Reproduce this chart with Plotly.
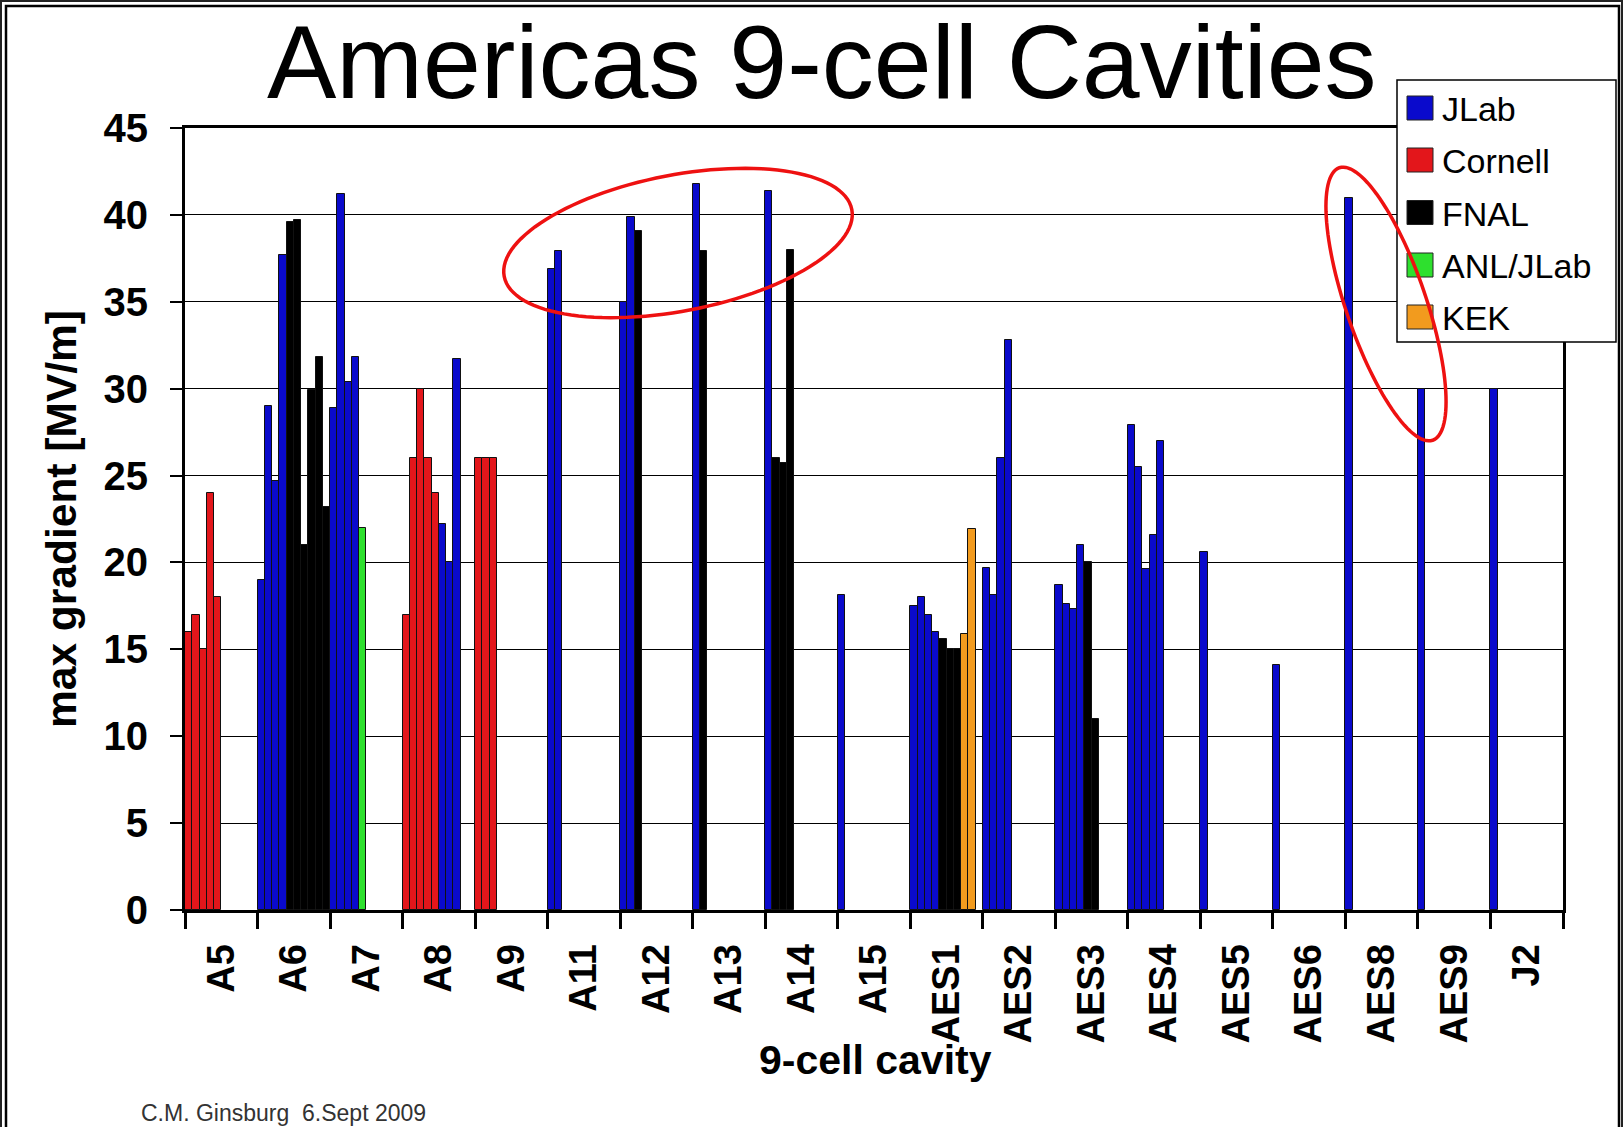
import numpy as np
import plotly.graph_objects as go

# ---------------- data ----------------
cavities = ["A5", "A6", "A7", "A8", "A9", "A11", "A12", "A13", "A14", "A15",
            "AES1", "AES2", "AES3", "AES4", "AES5", "AES6", "AES8", "AES9", "J2"]

labs = ["JLab", "Cornell", "FNAL", "ANL/JLab", "KEK"]
lab_colors = ["#0A0ACC", "#E3161B", "#000000", "#2EE02E", "#F29B1E"]

# one entry per vertical test, in the order drawn on the chart
test_cavity = (["A5"] * 5 + ["A6"] * 10 + ["A7"] * 5 + ["A8"] * 8 + ["A9"] * 3 +
               ["A11"] * 2 + ["A12"] * 3 + ["A13"] * 2 + ["A14"] * 4 + ["A15"] * 1 +
               ["AES1"] * 9 + ["AES2"] * 4 + ["AES3"] * 6 + ["AES4"] * 5 +
               ["AES5"] + ["AES6"] + ["AES8"] + ["AES9"] + ["J2"])

test_lab = (["Cornell"] * 5 +
            ["JLab"] * 4 + ["FNAL"] * 6 +
            ["JLab"] * 4 + ["ANL/JLab"] +
            ["Cornell"] * 5 + ["JLab"] * 3 +
            ["Cornell"] * 3 +
            ["JLab"] * 2 +
            ["JLab"] * 2 + ["FNAL"] +
            ["JLab"] + ["FNAL"] +
            ["JLab"] + ["FNAL"] * 3 +
            ["JLab"] +
            ["JLab"] * 4 + ["FNAL"] * 3 + ["KEK"] * 2 +
            ["JLab"] * 4 +
            ["JLab"] * 4 + ["FNAL"] * 2 +
            ["JLab"] * 5 +
            ["JLab"] + ["JLab"] + ["JLab"] + ["JLab"] + ["JLab"])

test_gradient = [16, 17, 15, 24, 18,                            # A5
                 19, 29, 24.7, 37.7, 39.6, 39.7, 21, 29.9, 31.8, 23.2,  # A6
                 28.9, 41.2, 30.4, 31.8, 22,                    # A7
                 17, 26, 30, 26, 24, 22.2, 20, 31.7,            # A8
                 26, 26, 26,                                    # A9
                 36.9, 37.9,                                    # A11
                 35.0, 39.9, 39.1,                              # A12
                 41.8, 37.9,                                    # A13
                 41.4, 26.0, 25.7, 38.0,                        # A14
                 18.1,                                          # A15
                 17.5, 18.0, 17.0, 16.0, 15.6, 15.0, 15.0, 15.9, 21.9,  # AES1
                 19.7, 18.1, 26.0, 32.8,                        # AES2
                 18.7, 17.6, 17.3, 21.0, 20.0, 11.0,            # AES3
                 27.9, 25.5, 19.6, 21.6, 27.0,                  # AES4
                 20.6, 14.1, 41.0, 30.0, 30.0]                  # AES5, AES6, AES8, AES9, J2

# ---------------- layout constants ----------------
W, H = 1623, 1127
PL, PR, PT, PB = 185, 1563, 128, 910          # plot area in pixels
SLOT = 0.1                                     # 10 test slots per cavity
FONT = "Liberation Sans, Arial, sans-serif"


def px2paper(px, py):
    return (np.asarray(px) - PL) / (PR - PL), (PB - np.asarray(py)) / (PB - PT)


# position of each bar inside its cavity group
cat_index = {c: i for i, c in enumerate(cavities)}
counter = {}
xpos = []
for c in test_cavity:
    k = counter.get(c, 0)
    counter[c] = k + 1
    xpos.append(cat_index[c] + (k + 0.5) * SLOT)

fig = go.Figure()
for lab, col in zip(labs, lab_colors):
    xs = [x for x, l in zip(xpos, test_lab) if l == lab]
    ys = [g for g, l in zip(test_gradient, test_lab) if l == lab]
    fig.add_trace(go.Bar(
        x=xs, y=ys, name=lab, width=SLOT,
        marker=dict(color=col, line=dict(color="#111111", width=1)),
        showlegend=False,
    ))

fig.update_layout(
    width=W, height=H,
    margin=dict(l=PL, r=W - PR, t=PT, b=H - PB),
    paper_bgcolor="white", plot_bgcolor="white",
    barmode="overlay", bargap=0,
    font=dict(family=FONT, color="black"),
)

fig.update_xaxes(
    range=[0, len(cavities)],
    tickvals=[i + 0.5 for i in range(len(cavities))],
    ticktext=cavities,
    ticks="", tickangle=-90,
    tickfont=dict(size=38, family=FONT, weight="bold", color="black"),
    ticklabelstandoff=16,
    showgrid=False, zeroline=False,
    showline=True, linewidth=3, linecolor="black", mirror=True,
    minor=dict(tickvals=list(range(len(cavities) + 1)), ticks="outside",
               ticklen=16, tickwidth=3, tickcolor="black", showgrid=False),
)
fig.update_yaxes(
    range=[0, 45], dtick=5, tick0=0,
    ticks="outside", ticklen=12, tickwidth=2, tickcolor="black",
    tickfont=dict(size=40, family=FONT, weight="bold", color="black"),
    ticklabelstandoff=14,
    showgrid=True, gridcolor="black", gridwidth=1, zeroline=False,
    showline=True, linewidth=3, linecolor="black", mirror=True,
    title=dict(text="max gradient [MV/m]", font=dict(size=42.5, family=FONT, weight="bold"),
               standoff=14),
)

shapes = []
annotations = []

# slide frame
x0, y0 = px2paper(1, 1)
x1, y1 = px2paper(W - 1, H + 20)
shapes.append(dict(type="rect", xref="paper", yref="paper", x0=x0, y0=y0, x1=x1, y1=y1,
                   line=dict(color="#222222", width=2), layer="above"))
x0, y0 = px2paper(6, 6)
x1, y1 = px2paper(W - 4, H + 20)
shapes.append(dict(type="rect", xref="paper", yref="paper", x0=x0, y0=y0, x1=x1, y1=y1,
                   line=dict(color="black", width=2.5), layer="above"))

# legend box
lx0, ly0 = px2paper(1397, 80)
lx1, ly1 = px2paper(1616, 342)
shapes.append(dict(type="rect", xref="paper", yref="paper", x0=lx0, y0=ly0, x1=lx1, y1=ly1,
                   line=dict(color="black", width=1.5), fillcolor="white", layer="above"))
item_y = [108, 160, 212.5, 265, 317]
for lab, col, yc in zip(labs, lab_colors, item_y):
    sx0, sy0 = px2paper(1407, yc - 12)
    sx1, sy1 = px2paper(1433, yc + 12)
    shapes.append(dict(type="rect", xref="paper", yref="paper", x0=sx0, y0=sy0, x1=sx1, y1=sy1,
                       line=dict(color="#222222", width=1), fillcolor=col, layer="above"))
    tx, ty = px2paper(1440, yc + 1)
    annotations.append(dict(text=lab, xref="paper", yref="paper", x=tx, y=ty,
                            xanchor="left", yanchor="middle", showarrow=False,
                            font=dict(size=34, family=FONT, color="black")))


# hand-drawn red ellipses
def ellipse_path(cx, cy, a, b, deg):
    t = np.linspace(0, 2 * np.pi, 121)
    th = np.radians(deg)
    ex = cx + a * np.cos(t) * np.cos(th) - b * np.sin(t) * np.sin(th)
    ey = cy + a * np.cos(t) * np.sin(th) + b * np.sin(t) * np.cos(th)
    qx, qy = px2paper(ex, ey)
    return "M" + " L".join(f"{u:.5f},{v:.5f}" for u, v in zip(qx, qy)) + " Z"


for cx, cy, a, b, deg in [(678, 243, 177, 68, -10.9), (1386, 304, 144, 40, 71.1)]:
    shapes.append(dict(type="path", xref="paper", yref="paper",
                       path=ellipse_path(cx, cy, a, b, deg),
                       line=dict(color="#EE1111", width=3.5), layer="above"))

# title
tx, ty = px2paper(822, 62)
annotations.append(dict(text="Americas 9-cell Cavities", xref="paper", yref="paper",
                        x=tx, y=ty, xanchor="center", yanchor="middle", showarrow=False,
                        font=dict(size=104, family=FONT, color="black")))
# x-axis title
tx, ty = px2paper(875, 1060)
annotations.append(dict(text="9-cell cavity", xref="paper", yref="paper",
                        x=tx, y=ty, xanchor="center", yanchor="middle", showarrow=False,
                        font=dict(size=41, family=FONT, weight="bold", color="black")))
# footer
tx, ty = px2paper(139, 1113)
annotations.append(dict(text="C.M. Ginsburg  6.Sept 2009", xref="paper", yref="paper",
                        x=tx, y=ty, xanchor="left", yanchor="middle", showarrow=False,
                        font=dict(size=23, family=FONT, color="#333333")))

fig.update_layout(shapes=shapes, annotations=annotations)

fig.write_html("out.html", config={"displayModeBar": False},
               post_script="document.body.style.margin='0';document.body.style.overflow='hidden';")
